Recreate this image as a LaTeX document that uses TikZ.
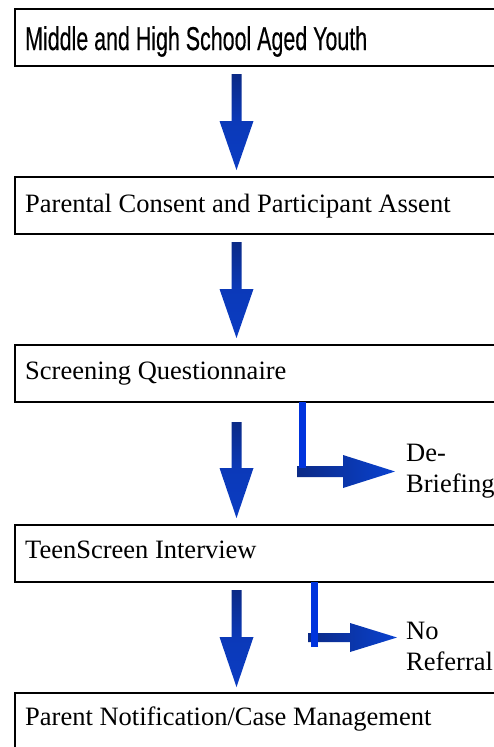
\documentclass[tikz,border=0pt]{standalone}
\usepackage{fontspec}
\usepackage{graphicx}
\setmainfont{Liberation Serif}
\newfontfamily\titlefont[BoldFont={Liberation Sans},BoldFeatures={FakeBold=0.45}]{Liberation Sans}
\usetikzlibrary{calc}
\definecolor{navyA}{HTML}{0B2A86}
\definecolor{blueB}{HTML}{0B3CC2}
\definecolor{blueC}{HTML}{0A42D0}
\definecolor{brightB}{HTML}{0033DD}
\tikzset{
  box/.style={draw=black, line width=2.8pt, fill=white, anchor=north west,
    minimum width=500pt, minimum height=57pt, outer sep=0pt, inner sep=0pt},
  boxtext/.style={anchor=base west, inner sep=0pt, font=\fontsize{26.5}{31}\selectfont},
  sidetext/.style={anchor=base west, inner sep=0pt, font=\fontsize{26.5}{31}\selectfont},
  downshade/.style={top color=navyA, bottom color=blueB, middle color=blueB!85!navyA},
  rightshade/.style={left color=navyA, right color=blueC},
  bendline/.style={draw=brightB, line width=6.5pt}
}
% down block arrow: centre x, shaft top, head base, tip
\newcommand\dnarr[4]{%
  \shade[downshade] (#1-5,#2) -- (#1+5,#2) -- (#1+5,#3) -- (#1+17,#3) -- (#1,#4)
    -- (#1-17,#3) -- (#1-5,#3) -- cycle;}
\begin{document}
\begin{tikzpicture}[x=1pt,y=-1pt]
\useasboundingbox (0,0) rectangle (494,747);
\clip (0,0) rectangle (494,747);
\fill[white] (0,0) rectangle (494,747);

% boxes
\node[box] (b1) at (15,9) {};
\node[box] (b2) at (15,177) {};
\node[box] (b3) at (15,345) {};
\node[box] (b4) at (15,525) {};
\node[box, minimum height=90pt] (b5) at (15,693) {};

% texts
\node[anchor=base west, inner sep=0pt] (t1) at ($(b1.north west)+(10,41)$)
  {\resizebox{342pt}{\height}{\titlefont\bfseries\fontsize{33}{34}\selectfont Middle and High School Aged Youth}};
\node[boxtext] (t2) at ($(b2.north west)+(10,35)$) {Parental Consent and Participant Assent};
\node[boxtext] (t3) at ($(b3.north west)+(10,34)$) {Screening Questionnaire};
\node[boxtext] (t4) at ($(b4.north west)+(10,33)$) {TeenScreen Interview};
\node[boxtext] (t5) at ($(b5.north west)+(10,32)$) {Parent Notification/Case Management};

% main down arrows
\dnarr{236.5}{74}{121}{170}
\dnarr{236.5}{242}{289}{338}
\dnarr{236.5}{422}{468}{518}
\dnarr{236.5}{590}{637}{687}

% De-Briefing branch
\coordinate (d1) at (b3.south -| 302.5,0);
\coordinate (d2) at (302.5,468);
\shade[rightshade] (297,466) -- (343,466) -- (343,455) -- (395,471.5) -- (343,488)
  -- (343,477) -- (297,477) -- cycle;
\draw[bendline] (d1) -- (d2);
\node[sidetext] (l1) at (406,461)
  {\begin{tabular}[t]{@{}l@{}}De-\\Briefing\end{tabular}};

% No Referral branch
\coordinate (n1) at (b4.south -| 314.5,0);
\coordinate (n2) at (314.5,647);
\shade[rightshade] (308,633) -- (350,633) -- (350,623) -- (397,637.5) -- (350,652)
  -- (350,642) -- (308,642) -- cycle;
\draw[bendline] (n1) -- (n2);
\node[sidetext] (l2) at (406,639)
  {\begin{tabular}[t]{@{}l@{}}No\\Referral\end{tabular}};
\end{tikzpicture}
\end{document}
